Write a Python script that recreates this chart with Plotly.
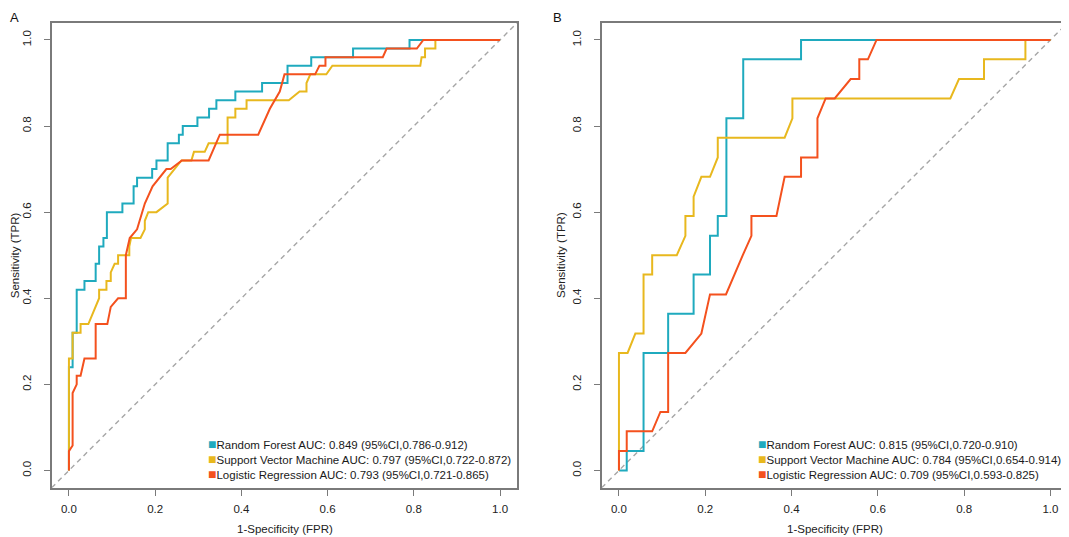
import plotly.graph_objects as go

# ROC curve vertices (FPR, TPR)
# Panel A
rf_a_fpr = [0, 0, 0.0085, 0.0085, 0.018, 0.018, 0.036, 0.036, 0.062, 0.062, 0.07, 0.07, 0.08, 0.08,
            0.088, 0.088, 0.124, 0.124, 0.15, 0.15, 0.158, 0.158, 0.193, 0.193, 0.203, 0.203, 0.229,
            0.229, 0.255, 0.255, 0.264, 0.264, 0.298, 0.298, 0.325, 0.325, 0.342, 0.342, 0.386, 0.386,
            0.448, 0.448, 0.507, 0.507, 0.562, 0.562, 0.659, 0.659, 0.79, 0.79, 1.0]
rf_a_tpr = [0, 0.24, 0.24, 0.32, 0.32, 0.42, 0.42, 0.44, 0.44, 0.48, 0.48, 0.52, 0.52, 0.54,
            0.54, 0.60, 0.60, 0.62, 0.62, 0.66, 0.66, 0.68, 0.68, 0.70, 0.70, 0.72, 0.72,
            0.76, 0.76, 0.78, 0.78, 0.80, 0.80, 0.82, 0.82, 0.84, 0.84, 0.86, 0.86, 0.88,
            0.88, 0.90, 0.90, 0.94, 0.94, 0.96, 0.96, 0.98, 0.98, 1.0, 1.0]

svm_a_fpr = [0, 0, 0.0085, 0.0085, 0.027, 0.027, 0.045, 0.07, 0.07, 0.087, 0.087, 0.097, 0.097, 0.106,
             0.114, 0.114, 0.14, 0.14, 0.144, 0.166, 0.176, 0.176, 0.184, 0.203, 0.229, 0.229, 0.261,
             0.284, 0.29, 0.315, 0.324, 0.368, 0.368, 0.386, 0.386, 0.412, 0.412, 0.51, 0.535, 0.551,
             0.551, 0.56, 0.597, 0.611, 0.815, 0.818, 0.826, 0.826, 0.85, 0.85, 1.0]
svm_a_tpr = [0, 0.26, 0.26, 0.32, 0.32, 0.34, 0.34, 0.40, 0.42, 0.42, 0.44, 0.44, 0.46, 0.48,
             0.48, 0.50, 0.50, 0.52, 0.54, 0.54, 0.56, 0.58, 0.60, 0.60, 0.62, 0.68, 0.72,
             0.72, 0.74, 0.74, 0.76, 0.76, 0.82, 0.82, 0.84, 0.84, 0.86, 0.86, 0.88, 0.88,
             0.90, 0.92, 0.92, 0.94, 0.94, 0.96, 0.96, 0.98, 0.98, 1.0, 1.0]

lr_a_fpr = [0, 0, 0.0085, 0.0085, 0.018, 0.018, 0.027, 0.036, 0.062, 0.062, 0.089, 0.097, 0.114, 0.132,
            0.132, 0.141, 0.158, 0.176, 0.194, 0.226, 0.236, 0.262, 0.324, 0.35, 0.439, 0.466, 0.489,
            0.5, 0.571, 0.581, 0.595, 0.595, 0.728, 0.737, 0.807, 0.822, 1.0]
lr_a_tpr = [0, 0.045, 0.058, 0.18, 0.20, 0.22, 0.22, 0.26, 0.26, 0.34, 0.34, 0.38, 0.40, 0.40,
            0.50, 0.54, 0.56, 0.62, 0.66, 0.70, 0.70, 0.72, 0.72, 0.78, 0.78, 0.84, 0.88,
            0.92, 0.92, 0.94, 0.94, 0.96, 0.96, 0.98, 0.98, 1.0, 1.0]

# Panel B
rf_b_fpr = [0, 0.018, 0.018, 0.057, 0.057, 0.114, 0.114, 0.173, 0.173, 0.211, 0.211, 0.229, 0.229,
            0.249, 0.249, 0.288, 0.288, 0.422, 0.422, 1.0]
rf_b_tpr = [0, 0, 0.045, 0.045, 0.273, 0.273, 0.364, 0.364, 0.455, 0.455, 0.545, 0.545, 0.591,
            0.591, 0.818, 0.818, 0.955, 0.955, 1.0, 1.0]

svm_b_fpr = [0, 0, 0.02, 0.038, 0.057, 0.057, 0.077, 0.077, 0.134, 0.154, 0.154, 0.173, 0.173, 0.191,
             0.211, 0.229, 0.229, 0.384, 0.402, 0.402, 0.768, 0.788, 0.846, 0.846, 0.942, 0.942, 1.0]
svm_b_tpr = [0, 0.273, 0.273, 0.318, 0.318, 0.455, 0.455, 0.50, 0.50, 0.545, 0.591, 0.591, 0.636, 0.682,
             0.682, 0.727, 0.773, 0.773, 0.818, 0.864, 0.864, 0.909, 0.909, 0.955, 0.955, 1.0, 1.0]

lr_b_fpr = [0, 0, 0.018, 0.018, 0.077, 0.096, 0.114, 0.114, 0.154, 0.191, 0.211, 0.248, 0.287, 0.307,
            0.307, 0.365, 0.384, 0.422, 0.422, 0.46, 0.46, 0.479, 0.5, 0.537, 0.557, 0.557, 0.577,
            0.597, 1.0]
lr_b_tpr = [0, 0.045, 0.045, 0.091, 0.091, 0.136, 0.136, 0.273, 0.273, 0.318, 0.409, 0.409, 0.50, 0.545,
            0.591, 0.591, 0.682, 0.682, 0.727, 0.727, 0.818, 0.864, 0.864, 0.909, 0.909, 0.955, 0.955,
            1.0, 1.0]

model_names = ["Random Forest", "Support Vector Machine", "Logistic Regression"]
auc_a = ["0.849 (95%CI,0.786-0.912)", "0.797 (95%CI,0.722-0.872)", "0.793 (95%CI,0.721-0.865)"]
auc_b = ["0.815 (95%CI,0.720-0.910)", "0.784 (95%CI,0.654-0.914)", "0.709 (95%CI,0.593-0.825)"]
colors = ["#1FAABE", "#E8B81E", "#F4511E"]

tick_vals = [0, 0.2, 0.4, 0.6, 0.8, 1.0]
ax_range = [-0.04, 1.04]

# the page body has an 8px margin, so the figure is shrunk by that much
OFF = 8
W, H = 1069 - OFF, 537 - OFF
FONT = "Liberation Sans, Arial, sans-serif"
FS = 11.5


def px(x):
    return (x - OFF) / W


def py(y):
    return 1 - (y - OFF) / H


fig = go.Figure()

panels = [
    ("x", "y", [(rf_a_fpr, rf_a_tpr), (svm_a_fpr, svm_a_tpr), (lr_a_fpr, lr_a_tpr)], auc_a),
    ("x2", "y2", [(rf_b_fpr, rf_b_tpr), (svm_b_fpr, svm_b_tpr), (lr_b_fpr, lr_b_tpr)], auc_b),
]

for xa, ya, curves, aucs in panels:
    # chance line across the whole plot box
    fig.add_shape(type="line", xref=xa, yref=ya, x0=ax_range[0], y0=ax_range[0],
                  x1=ax_range[1], y1=ax_range[1],
                  line=dict(color="#A6A6A6", width=1.4, dash="5px,4px"), layer="below")
    for (fx, ty), col, name in zip(curves, colors, model_names):
        fig.add_trace(go.Scatter(x=fx, y=ty, mode="lines", xaxis=xa, yaxis=ya, name=name,
                                 line=dict(color=col, width=2), showlegend=False))
    # legend (bottom right, R style)
    for i, (name, auc, col) in enumerate(zip(model_names, aucs, colors)):
        fig.add_annotation(xref=xa, yref=ya, x=0.318, y=0.062 - 0.0352 * i,
                           xanchor="left", yanchor="middle", showarrow=False,
                           text=f'<span style="color:{col};font-size:14px">■</span>{name} AUC: {auc}',
                           font=dict(family=FONT, size=FS, color="#1a1a1a"))

x_dom_a = [px(51.7), px(517.3)]
x_dom_b = [px(601.7), px(1067.7)]
y_dom = [py(487.7), py(22.7)]

axis_style = dict(range=ax_range, tickvals=tick_vals, tickformat=".1f", showgrid=False,
                  zeroline=False, showline=True, mirror=True, linecolor="#7A7A7A", linewidth=1.6,
                  ticks="outside", ticklen=6, tickwidth=1.4, tickcolor="#7A7A7A",
                  tickfont=dict(family=FONT, size=FS, color="#222222"))

fig.update_layout(
    width=W, height=H,
    margin=dict(l=0, r=0, t=0, b=0),
    paper_bgcolor="white", plot_bgcolor="white",
    font=dict(family=FONT, color="#222222"),
    xaxis=dict(domain=x_dom_a, anchor="y", ticklabelstandoff=4, **axis_style),
    yaxis=dict(domain=y_dom, anchor="x", tickangle=-90, ticklabelstandoff=8, **axis_style),
    xaxis2=dict(domain=x_dom_b, anchor="y2", ticklabelstandoff=4, **axis_style),
    yaxis2=dict(domain=y_dom, anchor="x2", tickangle=-90, ticklabelstandoff=8, **axis_style),
)

# axis titles and panel letters
for left, right, letter in [(51.7, 517.3, "A"), (601.7, 1067.7, "B")]:
    fig.add_annotation(xref="paper", yref="paper", x=px((left + right) / 2), y=py(529),
                       xanchor="center", yanchor="middle", showarrow=False,
                       text="1-Specificity (FPR)", font=dict(family=FONT, size=FS, color="#222222"))
    fig.add_annotation(xref="paper", yref="paper", x=px(max(left - 41, 15)), y=py(255.2),
                       xanchor="center", yanchor="middle", showarrow=False, textangle=-90,
                       text="Sensitivity (TPR)", font=dict(family=FONT, size=FS, color="#222222"))
    fig.add_annotation(xref="paper", yref="paper", x=px(max(left - 51, OFF)), y=1,
                       xanchor="left", yanchor="top", showarrow=False,
                       text=letter, font=dict(family=FONT, size=13, color="#111111"))

fig.write_html("out.html")
